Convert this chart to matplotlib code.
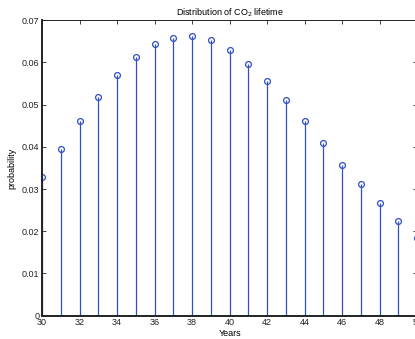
import matplotlib
matplotlib.use("Agg")
import matplotlib.pyplot as plt

# 数据：年份与对应概率
years = [30, 31, 32, 33, 34, 35, 36, 37, 38, 39, 40,
         41, 42, 43, 44, 45, 46, 47, 48, 49, 50]
probability = [0.0329, 0.0394, 0.0460, 0.0518, 0.0570, 0.0612, 0.0643,
               0.0658, 0.0662, 0.0653, 0.0629, 0.0596, 0.0556, 0.0510,
               0.0460, 0.0408, 0.0358, 0.0311, 0.0266, 0.0224, 0.0185]

xticks = [30, 32, 34, 36, 38, 40, 42, 44, 46, 48, 50]
yticks = [0, 0.01, 0.02, 0.03, 0.04, 0.05, 0.06, 0.07]
ytick_labels = ["0", "0.01", "0.02", "0.03", "0.04", "0.05", "0.06", "0.07"]

plt.rcParams["font.family"] = ["Liberation Sans", "DejaVu Sans"]

fig = plt.figure(figsize=(4.15, 3.39), dpi=100)
# 右侧坐标轴故意超出画布，与原图被裁切的效果一致
ax = fig.add_axes([0.1012, 0.0687, 0.904, 0.872])

blue = "#2f4fc4"
markerline, stemlines, baseline = ax.stem(years, probability, basefmt=" ")
plt.setp(stemlines, color=blue, linewidth=0.9)
plt.setp(markerline, marker="o", markersize=4.2, markerfacecolor="none",
         markeredgecolor=blue, markeredgewidth=0.9)

ax.set_xlim(30, 50)
ax.set_ylim(0, 0.07)
ax.set_xticks(xticks)
ax.set_xticklabels([str(t) for t in xticks])
ax.set_yticks(yticks)
ax.set_yticklabels(ytick_labels)

ax.tick_params(direction="in", length=3, width=0.6, labelsize=6.5,
               top=True, right=True, pad=2, colors="#222222")
for side in ["left", "bottom"]:
    ax.spines[side].set_linewidth(1.4)
    ax.spines[side].set_color("#222222")
for side in ["top", "right"]:
    ax.spines[side].set_linewidth(0.7)
    ax.spines[side].set_color("#222222")

ax.set_title("Distribution of CO$_2$ lifetime", fontsize=6.5, pad=3)
ax.set_xlabel("Years", fontsize=6.5, labelpad=1)
ax.set_ylabel("probability", fontsize=6.5, labelpad=4)

fig.savefig("out.png", dpi=100)
